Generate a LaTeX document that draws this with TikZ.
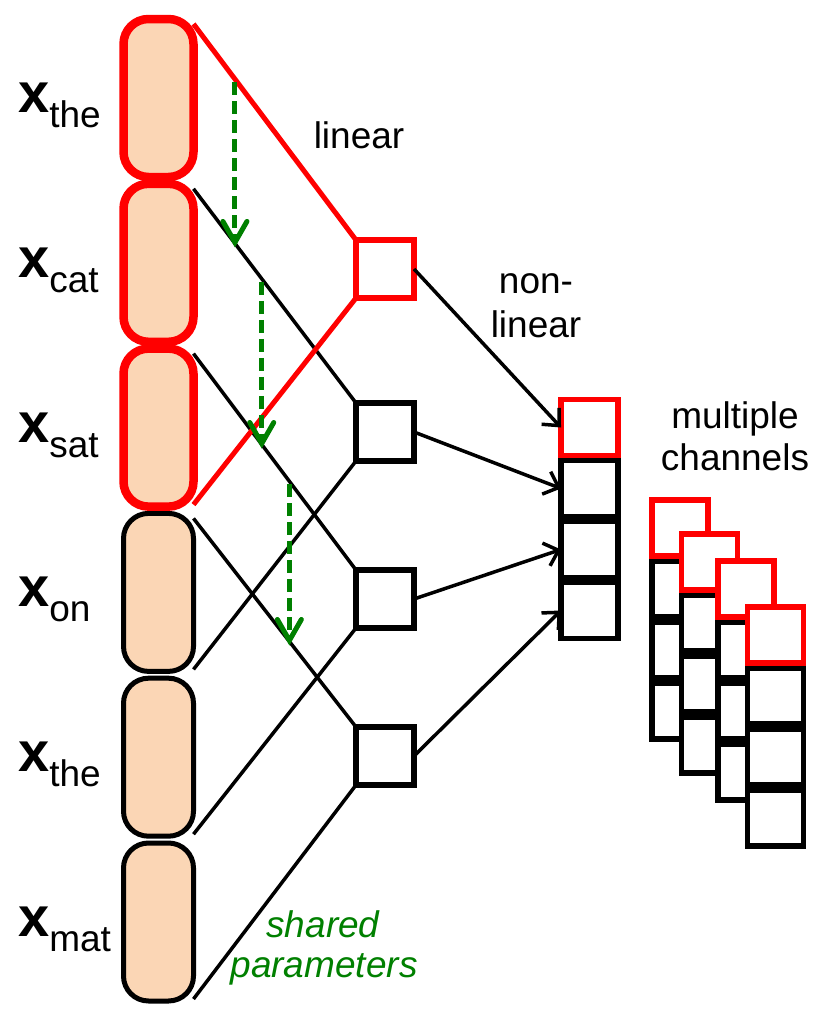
\documentclass[tikz,border=0pt]{standalone}
\usepackage{fontspec}
\setmainfont{Liberation Sans}
\usetikzlibrary{arrows.meta,calc}
\definecolor{peach}{RGB}{251,214,181}
\definecolor{dgreen}{RGB}{0,128,0}
\newcommand{\xw}[1]{{\fontsize{56}{60}\selectfont\bfseries x}{\fontsize{37}{40}\selectfont\raisebox{-15pt}{#1}}}
\begin{document}
\begin{tikzpicture}[x=1pt,y=-1pt,
  wordbox/.style={draw=black, line width=5pt, fill=peach, rounded corners=25pt,
    minimum width=70pt, minimum height=158pt, inner sep=0pt, outer sep=0pt},
  redword/.style={wordbox, draw=red, line width=8.5pt},
  hidbox/.style={draw=black, line width=6pt, fill=white, minimum size=58pt, inner sep=0pt, outer sep=0pt},
  redhid/.style={hidbox, draw=red, line width=5.5pt},
  cell/.style={draw=black, line width=5.5pt, fill=white, minimum width=57pt, minimum height=56pt, inner sep=0pt, outer sep=0pt},
  redcell/.style={cell, draw=red},
  conn/.style={draw=black, line width=3.5pt},
  redconn/.style={draw=red, line width=5pt},
  gdash/.style={draw=dgreen, line width=5pt, dash pattern=on 13pt off 6pt, shorten <=3pt, shorten >=4pt},
  ghead/.style={draw=dgreen, line width=5pt, solid, line cap=round, line join=miter},
  barrow/.style={draw=black, line width=3.5pt, -{Straight Barb[length=13pt,width=24pt,line width=3.5pt]}},
  lbl/.style={font=\fontsize{37}{40}\selectfont, inner sep=0pt},
  glbl/.style={font=\fontsize{37}{40}\selectfont\itshape, text=dgreen, inner sep=0pt},
  wlbl/.style={anchor=base west, inner sep=0pt}]
\path[fill=white] (0,0) rectangle (819,1036);
\useasboundingbox (0,0) rectangle (819,1036);

% word vectors
\node[wordbox] (w4) at (158.5,592.4) {};
\node[wordbox] (w5) at (158.5,757.2) {};
\node[wordbox] (w6) at (158.5,922) {};
\node[redword] (w1) at (158.5,98) {};
\node[redword] (w2) at (158.5,262.8) {};
\node[redword] (w3) at (158.5,427.6) {};

% word labels
\node[wlbl] (l1) at (18,112) {\xw{the}};
\node[wlbl] (l2) at (18,277) {\xw{cat}};
\node[wlbl] (l3) at (18,442) {\xw{sat}};
\node[wlbl] (l4) at (18,606) {\xw{on}};
\node[wlbl] (l5) at (18,771) {\xw{the}};
\node[wlbl] (l6) at (18,936) {\xw{mat}};

% hidden units
\node[redhid] (h1) at (385,269) {};
\node[hidbox] (h2) at (385,432) {};
\node[hidbox] (h3) at (385,599) {};
\node[hidbox] (h4) at (385,756) {};

% connector end points on word boxes
\foreach \i in {1,...,6}{
  \coordinate (w\i t) at ([yshift=-5pt]w\i.north east);
  \coordinate (w\i b) at ([yshift=2pt]w\i.south east);
}

% linear connections
\draw[conn] (w2t) -- (h2.north west);
\draw[conn] (w3t) -- (h3.north west);
\draw[conn] (w4t) -- (h4.north west);
\draw[conn] (w4b) -- (h2.south west);
\draw[conn] (w5b) -- (h3.south west);
\draw[conn] (w6b) -- (h4.south west);
\draw[redconn] (w1t) -- (h1.north west);
\draw[redconn] (w3b) -- (h1.south west);

% shared parameter arrows
\coordinate (g1s) at ($(w1t)!0.255!(h1.north west)$);
\coordinate (g1e) at ($(w2t)!0.255!(h2.north west)$);
\coordinate (g2s) at ($(w2t)!0.42!(h2.north west)$);
\coordinate (g2e) at ($(w3t)!0.42!(h3.north west)$);
\coordinate (g3s) at ($(w3t)!0.59!(h3.north west)$);
\coordinate (g3e) at ($(w4t)!0.59!(h4.north west)$);
\foreach \g in {1,2,3}{
  \draw[gdash] (g\g s) -- (g\g e);
  \draw[ghead] ([xshift=-12pt,yshift=22pt]g\g e) -- ([yshift=1pt]g\g e) -- ([xshift=12pt,yshift=22pt]g\g e);
}

% output column
\node[cell] (o2) at (589.5,488.5) {};
\node[cell] (o3) at (589.5,549.5) {};
\node[cell] (o4) at (589.5,610.5) {};
\node[redcell] (o1) at (589.5,427.5) {};

% non-linear arrows
\draw[barrow] (h1.east) -- (o1.west);
\draw[barrow] (h2.east) -- (o2.west);
\draw[barrow] (h3.east) -- (o3.west);
\draw[barrow] (h4.east) -- (o4.west);

% multiple channels
\foreach \k/\cx/\cy in {1/680/528, 2/709.5/562, 3/746/589, 4/775.5/635}{
  \foreach \i in {2,3,4}{
    \node[cell, minimum width=56pt] (s\k c\i) at (\cx,\cy+61*\i-61) {};
  }
  \node[redcell, minimum width=56pt] (s\k c1) at (\cx,\cy) {};
}

% text labels
\node[lbl, anchor=base] (tlin) at (359,148) {linear};
\node[lbl, anchor=base] (tnl1) at (536,293) {non-};
\node[lbl, anchor=base] (tnl2) at (536,337) {linear};
\node[lbl, anchor=base] (tmc1) at (735,428) {multiple};
\node[lbl, anchor=base] (tmc2) at (735,470) {channels};
\node[glbl, anchor=base] (tsp1) at (323,937) {shared};
\node[glbl, anchor=base] (tsp2) at (324,977) {parameters};
\end{tikzpicture}
\end{document}
